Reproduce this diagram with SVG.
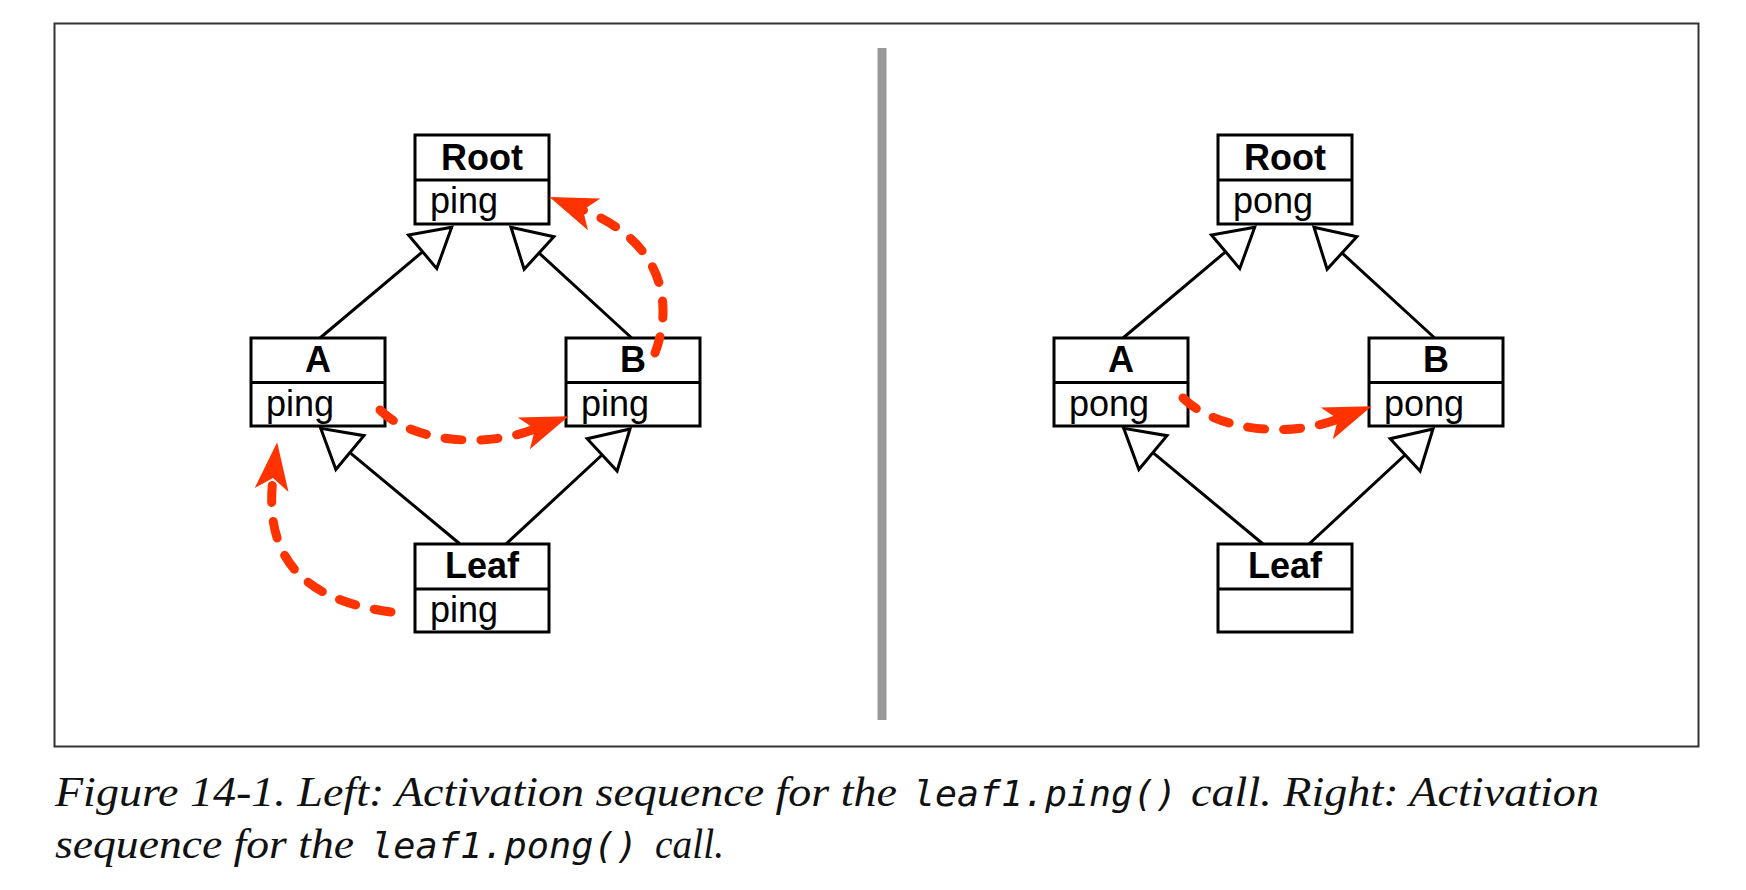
<svg xmlns="http://www.w3.org/2000/svg" width="1746" height="890" viewBox="0 0 1746 890">
<style>
.box{fill:#fff;stroke:#000;stroke-width:3}
.div{stroke:#000;stroke-width:3}
.title{font-family:"Liberation Sans",Arial,sans-serif;font-weight:bold;font-size:36px;text-anchor:middle;fill:#000}
.meth{font-family:"Liberation Sans",Arial,sans-serif;font-size:36px;fill:#000}
.inh{stroke:#000;stroke-width:3;fill:none;marker-end:url(#tri)}
.call{stroke:#ff3300;stroke-width:9;fill:none;stroke-dasharray:17 19;stroke-linecap:round;marker-end:url(#arr)}
.cap{font-family:"Liberation Serif","Times New Roman",serif;font-style:italic;font-size:43px;fill:#111}
.code{font-family:"DejaVu Sans Mono","Liberation Mono",monospace;font-style:italic;font-size:36px;fill:#111}
</style>
<defs>
<marker id="tri" markerUnits="userSpaceOnUse" orient="auto" refX="0" refY="0" markerWidth="10" markerHeight="10" overflow="visible">
<path d="M0,0 L-38,-22 L-38,22 Z" fill="#fff" stroke="#000" stroke-width="3" stroke-linejoin="miter"/>
</marker>
<marker id="arr" markerUnits="userSpaceOnUse" orient="auto" refX="0" refY="0" markerWidth="10" markerHeight="10" overflow="visible">
<path d="M36,0 L-12,-17 L0,0 L-12,17 Z" fill="#ff3300"/>
</marker>
</defs>
<rect width="1746" height="890" fill="#fff"/>
<rect x="54.5" y="23.5" width="1644" height="723" fill="none" stroke="#333" stroke-width="2"/>
<rect x="877.5" y="48" width="9" height="672" fill="#999"/>

<g id="inheritance-connectors">
<line class="inh" x1="320" y1="338" x2="451.7" y2="227.3"/>
<line class="inh" x1="631.7" y1="338" x2="511" y2="227.3"/>
<line class="inh" x1="460" y1="544" x2="320.7" y2="428.3"/>
<line class="inh" x1="506" y1="544" x2="630" y2="429"/>
<line class="inh" x1="1123" y1="338" x2="1254.7" y2="227.3"/>
<line class="inh" x1="1434.7" y1="338" x2="1314" y2="227.3"/>
<line class="inh" x1="1263" y1="544" x2="1123.7" y2="428.3"/>
<line class="inh" x1="1309" y1="544" x2="1433" y2="429"/>
</g>

<g id="root-left">
<rect class="box" x="415" y="135" width="134" height="89"/>
<line class="div" x1="415" y1="180" x2="549" y2="180"/>
<text class="title" x="482" y="170">Root</text>
<text class="meth" x="430" y="213">ping</text>
</g>
<g id="a-left">
<rect class="box" x="251" y="338" width="134" height="88"/>
<line class="div" x1="251" y1="382.5" x2="385" y2="382.5"/>
<text class="title" x="318" y="372">A</text>
<text class="meth" x="266" y="416">ping</text>
</g>
<g id="b-left">
<rect class="box" x="566" y="338" width="134" height="88"/>
<line class="div" x1="566" y1="382.5" x2="700" y2="382.5"/>
<text class="title" x="633" y="372">B</text>
<text class="meth" x="581" y="416">ping</text>
</g>
<g id="leaf-left">
<rect class="box" x="415" y="544" width="134" height="88"/>
<line class="div" x1="415" y1="589" x2="549" y2="589"/>
<text class="title" x="482" y="578">Leaf</text>
<text class="meth" x="430" y="622">ping</text>
</g>

<g id="root-right">
<rect class="box" x="1218" y="135" width="134" height="89"/>
<line class="div" x1="1218" y1="180" x2="1352" y2="180"/>
<text class="title" x="1285" y="170">Root</text>
<text class="meth" x="1233" y="213">pong</text>
</g>
<g id="a-right">
<rect class="box" x="1054" y="338" width="134" height="88"/>
<line class="div" x1="1054" y1="382.5" x2="1188" y2="382.5"/>
<text class="title" x="1121" y="372">A</text>
<text class="meth" x="1069" y="416">pong</text>
</g>
<g id="b-right">
<rect class="box" x="1369" y="338" width="134" height="88"/>
<line class="div" x1="1369" y1="382.5" x2="1503" y2="382.5"/>
<text class="title" x="1436" y="372">B</text>
<text class="meth" x="1384" y="416">pong</text>
</g>
<g id="leaf-right">
<rect class="box" x="1218" y="544" width="134" height="88"/>
<line class="div" x1="1218" y1="589" x2="1352" y2="589"/>
<text class="title" x="1285" y="578">Leaf</text>
</g>

<g id="call-connectors">
<path class="call" d="M391,612 C300,600 264,555 273,478"/>
<path class="call" d="M380,410 C410,440 480,450 535,429"/>
<path class="call" d="M655,353 C675,300 660,240 583,210"/>
<path class="call" d="M1183,398 C1213,428 1283,440 1338,419"/>
</g>

<g id="caption">
<text class="cap" x="55" y="806" textLength="842" lengthAdjust="spacingAndGlyphs">Figure 14-1. Left: Activation sequence for the</text>
<text class="code" x="913" y="806" textLength="264" lengthAdjust="spacingAndGlyphs">leaf1.ping()</text>
<text class="cap" x="1191" y="806" textLength="408" lengthAdjust="spacingAndGlyphs">call. Right: Activation</text>
<text class="cap" x="55" y="858" textLength="299" lengthAdjust="spacingAndGlyphs">sequence for the</text>
<text class="code" x="371" y="858" textLength="267" lengthAdjust="spacingAndGlyphs">leaf1.pong()</text>
<text class="cap" x="655" y="858" textLength="69" lengthAdjust="spacingAndGlyphs">call.</text>
</g>
</svg>
